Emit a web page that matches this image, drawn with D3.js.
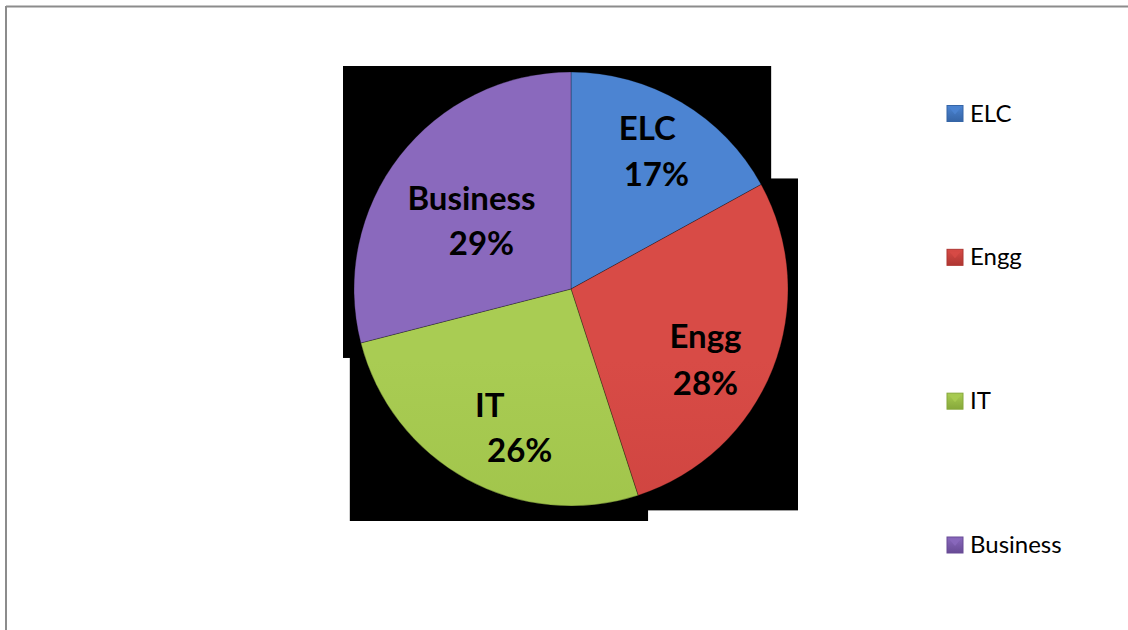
<!DOCTYPE html>
<html>
<head>
<meta charset="utf-8">
<script src="https://cdn.jsdelivr.net/npm/d3@7"></script>
<style>
  html, body { margin: 0; padding: 0; background: #fff; }
  svg { display: block; }
</style>
</head>
<body>
<svg id="chart" width="1128" height="630"></svg>
<script>
// Enrolment share by department
const categories = ["ELC", "Engg", "IT", "Business"];
const shares = [17, 28, 26, 29];
const percentLabels = ["17%", "28%", "26%", "29%"];

const W = 1128, H = 630;
const cx = 571, cy = 289, R = 217;

// light / base / dark tones for each slice
const palette = {
  ELC:      { light: "#4c84d2", base: "#4479c4", dark: "#3565a6" },
  Engg:     { light: "#d84b46", base: "#cc423e", dark: "#ae3632" },
  IT:       { light: "#a9cc53", base: "#9ec248", dark: "#86a83a" },
  Business: { light: "#8a69bd", base: "#7e5fb0", dark: "#684b95" }
};

// label line nudges from each slice's centroid (pixels)
const labelNudge = {
  ELC:      [{ dx: 0, dy: -20 }, { dx: 9, dy: 26 }],
  Engg:     [{ dx: -5, dy: 4 }, { dx: -5, dy: 51 }],
  IT:       [{ dx: -9, dy: -3 }, { dx: 21, dy: 42 }],
  Business: [{ dx: 19, dy: 13 }, { dx: 29, dy: 58 }]
};

const svg = d3.select("#chart");
const defs = svg.append("defs");

// frame lines along the top and left edges
svg.append("rect").attr("x", 0).attr("y", 0).attr("width", W).attr("height", H).attr("fill", "#fff");
svg.append("line").attr("x1", 6).attr("x2", W).attr("y1", 6.5).attr("y2", 6.5)
  .attr("stroke", "#8c8c8c").attr("stroke-width", 2);
svg.append("line").attr("x1", 6).attr("x2", 6).attr("y1", 6).attr("y2", H)
  .attr("stroke", "#8c8c8c").attr("stroke-width", 2);

// vertical shading for each slice colour
categories.forEach((c, i) => {
  const p = palette[c];
  const g = defs.append("linearGradient").attr("id", "grad" + i)
    .attr("gradientUnits", "userSpaceOnUse")
    .attr("x1", 0).attr("y1", cy - R).attr("x2", 0).attr("y2", cy + R);
  g.append("stop").attr("offset", "0%").attr("stop-color", p.light);
  g.append("stop").attr("offset", "50%").attr("stop-color", p.base);
  g.append("stop").attr("offset", "100%").attr("stop-color", p.dark);

  const lg = defs.append("linearGradient").attr("id", "lgrad" + i)
    .attr("x1", 0).attr("y1", 0).attr("x2", 0).attr("y2", 1);
  lg.append("stop").attr("offset", "0%").attr("stop-color", p.light);
  lg.append("stop").attr("offset", "100%").attr("stop-color", p.dark);
});

// soft bevel highlight
const bevel = defs.append("filter").attr("id", "bevel")
  .attr("x", "-5%").attr("y", "-5%").attr("width", "110%").attr("height", "110%");
bevel.append("feGaussianBlur").attr("stdDeviation", 3);

const pie = d3.pie().value(d => d).sort(null).startAngle(0).endAngle(2 * Math.PI);
const arcs = pie(shares);
const arc = d3.arc().innerRadius(0).outerRadius(R);
const labelArc = d3.arc().innerRadius(150).outerRadius(150);

const boxLayer = svg.append("g");
const pieLayer = svg.append("g");

arcs.forEach((d, i) => {
  defs.append("clipPath").attr("id", "clip" + i)
    .append("path").attr("d", arc(d)).attr("transform", `translate(${cx},${cy})`);
});

const slices = pieLayer.selectAll("g.slice").data(arcs).join("g").attr("class", "slice");

slices.append("path")
  .attr("class", "face")
  .attr("d", arc)
  .attr("transform", `translate(${cx},${cy})`)
  .attr("fill", (d, i) => `url(#grad${i})`);

// inner bevel
slices.append("path")
  .attr("d", arc)
  .attr("transform", `translate(${cx},${cy})`)
  .attr("fill", "none")
  .attr("stroke", "#ffffff")
  .attr("stroke-opacity", 0.3)
  .attr("stroke-width", 10)
  .attr("clip-path", (d, i) => `url(#clip${i})`)
  .attr("filter", "url(#bevel)");

// seam between slices
slices.append("path")
  .attr("d", arc)
  .attr("transform", `translate(${cx},${cy})`)
  .attr("fill", "none")
  .attr("stroke", "#000")
  .attr("stroke-opacity", 0.28)
  .attr("stroke-width", 1);

// black bounding panels behind each slice
slices.select("path.face").each(function () {
  const bb = this.getBBox();
  boxLayer.append("rect")
    .attr("x", cx + bb.x - 11)
    .attr("y", cy + bb.y - 6)
    .attr("width", bb.width + 21)
    .attr("height", bb.height + 21)
    .attr("fill", "#000");
});

// slice labels
const labels = svg.append("g")
  .attr("font-family", "Lato, 'Open Sans', sans-serif")
  .attr("font-weight", "bold")
  .attr("font-size", 33)
  .attr("fill", "#000")
  .attr("text-anchor", "middle");

arcs.forEach((d, i) => {
  const [lx, ly] = labelArc.centroid(d);
  const n = labelNudge[categories[i]];
  labels.append("text")
    .attr("x", cx + lx + n[0].dx).attr("y", cy + ly + n[0].dy)
    .text(categories[i]);
  labels.append("text")
    .attr("x", cx + lx + n[1].dx).attr("y", cy + ly + n[1].dy)
    .text(percentLabels[i]);
});

// legend
const legendY = d3.scalePoint().domain(categories).range([113.5, 545]);
const legend = svg.append("g")
  .attr("font-family", "Lato, 'Open Sans', sans-serif")
  .attr("font-size", 24)
  .attr("fill", "#000");

categories.forEach((c, i) => {
  const y = legendY(c);
  legend.append("rect")
    .attr("x", 947).attr("y", y - 8).attr("width", 16).attr("height", 16)
    .attr("fill", `url(#lgrad${i})`)
    .attr("stroke", palette[c].dark).attr("stroke-width", 1);
  legend.append("path")
    .attr("d", `M${949},${y - 6} L${961},${y - 6} L${955},${y + 1} Z`)
    .attr("fill", palette[c].light).attr("opacity", 0.8);
  legend.append("text")
    .attr("x", 970).attr("y", y + 8)
    .text(c);
});
</script>
</body>
</html>
